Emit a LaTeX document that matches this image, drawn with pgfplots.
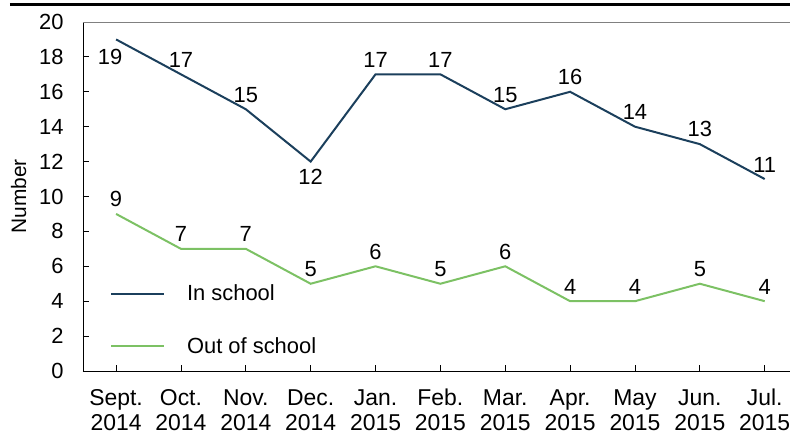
\documentclass[border=0pt]{standalone}
\usepackage{pgfplots}
\pgfplotsset{compat=1.18}
\usepackage{fontspec}
\setmainfont{Liberation Sans}
\definecolor{navy}{HTML}{1B3F5C}
\definecolor{lgreen}{HTML}{7CC164}
\newcommand{\tl}[2]{#1\strut\\#2\strut}
\begin{document}
\begin{tikzpicture}[x=1bp,y=1bp]
\useasboundingbox (-83,-65) rectangle (707,371);
\draw[black, line width=3bp] (-73,366) -- (707,366);
\begin{axis}[
  at={(0,0)}, anchor=south west,
  scale only axis, width=707bp, height=349bp,
  xmin=-0.51, xmax=10.39, ymin=0, ymax=20,
  axis x line*=bottom, axis y line*=left,
  axis line style={black, line width=0.8bp},
  tick align=inside, major tick length=6bp,
  tick style={black, line width=0.8bp},
  xtick={0,...,10},
  xticklabels={{\tl{Sept.}{2014}},{\tl{Oct.}{2014}},{\tl{Nov.}{2014}},{\tl{Dec.}{2014}},{\tl{Jan.}{2015}},{\tl{Feb.}{2015}},{\tl{Mar.}{2015}},{\tl{Apr.}{2015}},{\tl{May}{2015}},{\tl{Jun.}{2015}},{\tl{Jul.}{2015}}},
  xticklabel style={align=center, anchor=north, font=\fontsize{23}{25}\selectfont, yshift=-17bp, inner sep=0pt},
  ytick={0,2,...,20},
  yticklabel style={font=\fontsize{22}{24}\selectfont, xshift=-16bp},
  /pgf/number format/assume math mode=true,
  ylabel={Number},
  ylabel style={font=\fontsize{21}{24}\selectfont, yshift=6bp},
  legend style={draw=none, fill=none, at={(0.038,0.04)}, anchor=south west,
    font=\fontsize{22}{24}\selectfont, row sep=31bp, inner sep=0pt},
  legend cell align=left,
  legend image code/.code={\draw[#1, line width=2bp] (0bp,0bp) -- (53bp,0bp);},
  legend style={/tikz/every odd column/.append style={column sep=20bp}},
  nodes near coords,
  every node near coord/.append style={font=\fontsize{22}{24}\selectfont, black, inner sep=1bp},
  clip=false,
]
\addplot[navy, line width=2bp, nodes near coords align={above},
  every node near coord/.append style={yshift=5bp},
  coordinate style/.condition={x==0}{anchor=north, xshift=-6bp, yshift=-13bp},
  coordinate style/.condition={x==3}{anchor=north, yshift=-11bp}]
  coordinates {(0,19) (1,17) (2,15) (3,12) (4,17) (5,17) (6,15) (7,16) (8,14) (9,13) (10,11)};
\addlegendentry{In school}
\addplot[lgreen, line width=2bp, nodes near coords align={above}, every node near coord/.append style={yshift=5bp}]
  coordinates {(0,9) (1,7) (2,7) (3,5) (4,6) (5,5) (6,6) (7,4) (8,4) (9,5) (10,4)};
\addlegendentry{Out of school}
\draw[gray, line width=0.8bp] (rel axis cs:0,1) -- (rel axis cs:1,1);
\end{axis}
\end{tikzpicture}
\end{document}
